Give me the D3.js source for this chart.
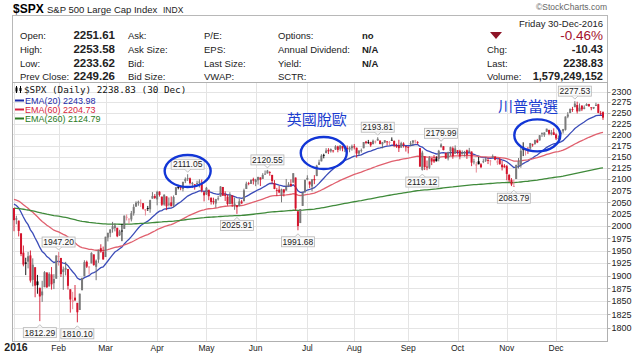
<!DOCTYPE html>
<html><head><meta charset="utf-8">
<script src="https://cdn.jsdelivr.net/npm/d3@7"></script>
<style>
body{margin:0;background:#fff;}
svg{display:block;font-family:"Liberation Sans",Arial,sans-serif;}
</style>
</head><body>
<svg id="c" width="640" height="356"></svg>
<script>
// ---------- DATA ----------
const tradingDays = [
"01-04","01-05","01-06","01-07","01-08","01-11","01-12","01-13","01-14","01-15","01-19","01-20","01-21","01-22","01-25","01-26","01-27","01-28","01-29",
"02-01","02-02","02-03","02-04","02-05","02-08","02-09","02-10","02-11","02-12","02-16","02-17","02-18","02-19","02-22","02-23","02-24","02-25","02-26","02-29",
"03-01","03-02","03-03","03-04","03-07","03-08","03-09","03-10","03-11","03-14","03-15","03-16","03-17","03-18","03-21","03-22","03-23","03-24","03-28","03-29","03-30","03-31",
"04-01","04-04","04-05","04-06","04-07","04-08","04-11","04-12","04-13","04-14","04-15","04-18","04-19","04-20","04-21","04-22","04-25","04-26","04-27","04-28","04-29",
"05-02","05-03","05-04","05-05","05-06","05-09","05-10","05-11","05-12","05-13","05-16","05-17","05-18","05-19","05-20","05-23","05-24","05-25","05-26","05-27","05-31",
"06-01","06-02","06-03","06-06","06-07","06-08","06-09","06-10","06-13","06-14","06-15","06-16","06-17","06-20","06-21","06-22","06-23","06-24","06-27","06-28","06-29","06-30",
"07-01","07-05","07-06","07-07","07-08","07-11","07-12","07-13","07-14","07-15","07-18","07-19","07-20","07-21","07-22","07-25","07-26","07-27","07-28","07-29",
"08-01","08-02","08-03","08-04","08-05","08-08","08-09","08-10","08-11","08-12","08-15","08-16","08-17","08-18","08-19","08-22","08-23","08-24","08-25","08-26","08-29","08-30","08-31",
"09-01","09-02","09-06","09-07","09-08","09-09","09-12","09-13","09-14","09-15","09-16","09-19","09-20","09-21","09-22","09-23","09-26","09-27","09-28","09-29","09-30",
"10-03","10-04","10-05","10-06","10-07","10-10","10-11","10-12","10-13","10-14","10-17","10-18","10-19","10-20","10-21","10-24","10-25","10-26","10-27","10-28","10-31",
"11-01","11-02","11-03","11-04","11-07","11-08","11-09","11-10","11-11","11-14","11-15","11-16","11-17","11-18","11-21","11-22","11-23","11-25","11-28","11-29","11-30",
"12-01","12-02","12-05","12-06","12-07","12-08","12-09","12-12","12-13","12-14","12-15","12-16","12-19","12-20","12-21","12-22","12-23","12-27","12-28","12-29","12-30"];

const open = [2038.20,2013.78,2011.71,1985.32,1945.97,1926.12,1927.83,1940.34,1891.68,1916.68,1888.66,1876.18,1861.46,1877.40,1906.28,1878.79,1902.52,1885.22,1894.00,
1936.94,1935.26,1907.07,1911.67,1913.07,1873.25,1848.46,1857.10,1847.00,1833.40,1871.44,1898.80,1927.57,1916.74,1924.44,1942.38,1917.56,1931.87,1954.95,1947.13,
1937.09,1976.60,1985.60,1994.01,1996.11,1996.88,1981.44,1990.97,1994.71,2019.27,2015.27,2014.24,2026.90,2041.16,2048.55,2048.64,2048.55,2032.48,2037.89,2035.75,2058.27,2063.77,
2056.62,2073.19,2062.50,2045.56,2063.01,2045.54,2050.23,2043.72,2065.92,2082.89,2083.10,2078.83,2096.05,2101.52,2102.09,2091.49,2089.37,2089.84,2092.57,2090.93,2071.82,
2067.17,2077.18,2060.30,2052.95,2047.77,2057.55,2062.63,2083.29,2067.17,2062.50,2046.53,2065.04,2044.38,2044.21,2041.88,2052.23,2052.65,2078.93,2091.44,2090.06,2100.13,
2093.94,2097.71,2104.07,2100.83,2110.18,2112.71,2115.65,2109.57,2091.75,2076.65,2077.60,2066.36,2078.20,2075.58,2085.19,2089.75,2092.80,2103.81,2031.45,2006.67,2042.69,2073.17,
2099.34,2095.05,2084.43,2100.42,2106.97,2131.72,2139.50,2153.81,2157.88,2165.13,2162.04,2163.79,2166.10,2172.91,2166.47,2173.71,2168.97,2169.81,2166.05,2168.83,
2173.15,2169.94,2156.81,2163.51,2168.79,2183.76,2182.24,2182.81,2177.97,2183.74,2186.08,2186.24,2177.84,2181.90,2184.24,2181.58,2187.81,2185.09,2173.29,2175.10,2170.19,2179.45,2173.56,
2171.33,2177.49,2181.61,2185.17,2182.76,2169.08,2120.86,2150.47,2127.86,2125.36,2146.48,2143.99,2145.94,2144.58,2170.94,2173.29,2158.54,2146.04,2161.85,2168.90,2156.51,
2164.33,2163.37,2155.15,2158.22,2164.19,2160.39,2161.35,2137.67,2130.26,2139.68,2132.95,2138.31,2140.81,2142.51,2139.43,2148.50,2149.72,2136.97,2144.06,2132.23,2129.78,
2128.68,2109.43,2098.80,2083.79,2100.59,2129.92,2131.56,2167.49,2162.71,2165.64,2168.29,2177.53,2178.61,2186.85,2186.43,2201.56,2198.55,2206.27,2210.21,2200.76,2204.97,
2200.17,2191.12,2200.65,2207.26,2210.72,2241.13,2249.73,2258.83,2263.32,2268.35,2253.77,2266.81,2259.24,2266.50,2270.54,2262.93,2260.25,2266.23,2270.23,2249.50,2251.61];

const high = [2038.20,2021.94,2011.71,1985.32,1960.40,1935.65,1947.38,1950.33,1934.47,1916.68,1901.44,1876.18,1889.85,1908.85,1906.28,1906.73,1916.99,1902.96,1940.24,
1947.20,1935.26,1918.01,1927.35,1913.07,1873.25,1868.25,1881.60,1847.00,1864.78,1895.77,1930.68,1930.00,1918.78,1946.70,1942.38,1932.08,1951.83,1962.96,1958.27,
1978.35,1986.51,1993.69,2009.13,2006.12,1996.88,1992.69,2005.08,2022.37,2024.57,2015.94,2032.02,2046.24,2052.36,2053.91,2056.60,2048.55,2036.04,2042.67,2055.91,2072.21,2067.92,
2075.07,2074.02,2062.50,2067.33,2063.01,2060.63,2062.93,2065.05,2083.18,2087.84,2083.22,2094.66,2104.05,2111.05,2103.78,2094.32,2089.37,2096.87,2099.89,2099.30,2073.85,
2083.42,2077.18,2060.30,2060.23,2057.72,2064.15,2084.87,2083.29,2073.99,2066.79,2071.88,2065.69,2060.61,2044.21,2058.35,2055.58,2079.67,2094.73,2094.30,2099.06,2103.48,
2100.97,2105.26,2104.07,2113.36,2119.22,2120.55,2117.64,2109.57,2098.12,2081.30,2085.65,2079.62,2078.20,2100.66,2093.66,2099.71,2113.32,2103.81,2031.45,2036.09,2073.13,2098.94,
2108.71,2095.05,2100.72,2109.08,2131.71,2143.16,2155.40,2156.45,2168.99,2169.05,2168.35,2164.63,2175.63,2174.56,2175.11,2173.71,2173.54,2174.98,2172.85,2177.09,
2178.29,2170.20,2163.79,2168.19,2182.87,2185.44,2187.66,2183.41,2188.45,2186.28,2193.81,2186.24,2183.08,2187.03,2185.00,2185.15,2193.42,2186.66,2179.00,2187.94,2183.48,2182.27,2173.79,
2173.56,2184.87,2186.57,2187.87,2184.94,2169.08,2163.30,2150.47,2141.33,2151.31,2146.48,2153.61,2150.80,2165.11,2179.99,2173.75,2158.54,2161.13,2172.40,2172.67,2175.30,
2164.41,2165.46,2163.95,2162.93,2165.86,2169.60,2161.56,2145.36,2138.19,2149.19,2135.61,2144.38,2148.44,2147.18,2142.63,2154.79,2151.44,2145.73,2147.13,2140.72,2133.25,
2131.45,2111.76,2102.56,2099.07,2132.00,2146.87,2170.10,2182.30,2165.92,2171.36,2180.84,2179.22,2188.06,2189.89,2198.70,2204.80,2204.72,2213.35,2211.14,2210.46,2214.10,
2202.60,2197.95,2209.42,2212.78,2241.63,2251.69,2259.80,2264.03,2277.53,2276.20,2272.12,2268.05,2267.47,2272.56,2271.23,2263.18,2263.79,2273.82,2271.31,2254.51,2253.58];

const low = [1989.68,2004.17,1979.05,1938.83,1918.46,1901.10,1914.35,1886.41,1878.93,1857.83,1864.60,1812.29,1848.98,1877.40,1875.97,1878.79,1872.70,1873.65,1894.00,
1920.03,1897.29,1872.23,1900.52,1872.65,1828.46,1834.94,1850.32,1810.10,1833.40,1871.44,1898.80,1915.09,1902.17,1924.44,1919.44,1891.00,1925.41,1945.78,1931.81,
1937.09,1968.80,1977.37,1986.77,1989.38,1977.43,1979.84,1969.25,1994.71,2012.05,2005.23,2010.04,2022.16,2041.16,2043.14,2040.57,2034.86,2022.49,2031.96,2028.31,2058.27,2057.46,
2043.98,2062.57,2042.56,2043.09,2033.80,2041.69,2041.88,2039.74,2065.92,2078.13,2076.31,2073.65,2091.68,2096.32,2088.52,2081.20,2077.52,2085.80,2082.31,2071.62,2052.28,
2066.11,2054.89,2045.55,2045.77,2039.45,2054.31,2062.63,2064.46,2053.13,2043.13,2046.53,2040.82,2034.49,2025.91,2041.88,2047.26,2052.65,2078.93,2087.08,2090.06,2088.66,
2085.10,2088.59,2085.36,2100.83,2110.18,2112.71,2107.73,2089.96,2078.46,2064.10,2069.80,2050.37,2062.84,2075.58,2083.02,2084.36,2092.80,2032.57,1991.68,2006.67,2042.69,2070.00,
2097.90,2080.86,2074.02,2089.39,2106.97,2131.72,2139.50,2146.21,2157.88,2155.79,2159.07,2159.01,2164.89,2159.75,2163.24,2161.95,2160.18,2159.07,2159.74,2163.49,
2166.21,2147.58,2152.53,2159.07,2168.79,2177.85,2178.61,2172.00,2177.97,2179.42,2186.08,2178.14,2168.50,2180.46,2175.13,2175.96,2186.80,2171.25,2169.74,2160.39,2170.19,2170.41,2161.35,
2157.09,2173.59,2175.10,2179.07,2177.49,2127.81,2119.12,2120.27,2119.90,2122.36,2131.20,2135.91,2139.17,2139.57,2170.94,2163.97,2145.04,2141.55,2151.79,2145.20,2156.51,
2154.77,2144.01,2155.15,2150.28,2144.85,2160.39,2128.84,2132.77,2114.72,2132.98,2124.43,2135.49,2138.15,2133.44,2130.09,2146.91,2141.93,2131.59,2132.52,2119.36,2125.53,
2097.85,2094.00,2085.23,2083.79,2100.59,2123.56,2125.35,2151.17,2152.49,2156.08,2166.38,2172.20,2176.65,2180.38,2186.43,2194.51,2194.51,2206.27,2198.36,2198.15,2198.81,
2187.44,2188.37,2199.97,2202.21,2208.93,2237.57,2249.23,2252.37,2263.32,2248.44,2253.77,2254.24,2258.21,2266.14,2265.15,2256.08,2258.84,2266.15,2249.11,2244.56,2233.62];

const close = [2012.66,2016.71,1990.26,1943.09,1922.03,1923.67,1938.68,1890.28,1921.84,1880.33,1881.33,1859.33,1868.99,1906.90,1877.08,1903.63,1882.95,1893.36,1940.24,
1939.38,1903.03,1912.53,1915.45,1880.05,1853.44,1852.21,1851.86,1829.08,1864.78,1895.58,1926.82,1917.83,1917.78,1945.50,1921.27,1929.80,1951.70,1948.05,1932.23,
1978.35,1986.45,1993.40,1999.99,2001.76,1979.26,1989.26,1989.57,2022.19,2019.64,2015.93,2027.22,2040.59,2049.58,2051.60,2049.80,2036.71,2035.94,2037.05,2055.01,2063.95,2059.74,
2072.78,2066.13,2045.17,2066.66,2041.91,2047.60,2041.99,2061.72,2082.42,2082.78,2080.73,2094.34,2100.80,2102.40,2091.48,2091.58,2087.79,2091.70,2095.15,2075.81,2065.30,
2081.43,2063.37,2051.12,2050.63,2057.14,2058.69,2084.39,2064.46,2064.11,2046.61,2066.66,2047.21,2047.63,2040.04,2052.32,2048.04,2076.06,2090.54,2090.10,2099.06,2096.95,
2099.33,2105.26,2099.13,2109.41,2112.13,2119.12,2115.48,2096.07,2079.06,2075.32,2071.50,2077.99,2071.22,2083.25,2088.90,2085.45,2113.32,2037.41,2000.54,2036.09,2070.77,2098.86,
2102.95,2088.55,2099.73,2097.90,2129.90,2137.16,2152.14,2152.43,2163.75,2161.74,2166.89,2163.78,2173.02,2165.17,2175.03,2168.48,2169.18,2166.58,2170.06,2173.60,
2170.84,2157.03,2163.79,2164.25,2182.87,2180.89,2181.74,2175.49,2185.79,2184.05,2190.15,2178.15,2182.22,2187.02,2183.87,2182.64,2186.90,2175.44,2172.47,2169.04,2180.38,2176.12,2170.95,
2170.86,2179.98,2186.48,2186.16,2181.30,2127.81,2159.04,2127.02,2125.77,2147.26,2139.16,2139.12,2139.76,2163.12,2177.18,2164.69,2146.10,2159.93,2171.37,2151.13,2168.27,
2161.20,2150.49,2159.73,2160.77,2153.74,2163.66,2136.73,2139.18,2132.55,2132.98,2126.50,2139.60,2144.29,2141.34,2141.16,2151.33,2143.16,2139.43,2133.04,2126.41,2126.15,
2111.72,2097.94,2088.66,2085.18,2131.52,2139.56,2163.26,2167.48,2164.45,2164.20,2180.39,2176.94,2187.12,2181.90,2198.18,2202.94,2204.72,2213.35,2201.72,2204.66,2198.81,
2191.08,2191.95,2204.71,2212.23,2241.35,2246.19,2259.53,2256.96,2271.72,2253.28,2262.03,2258.07,2262.53,2270.76,2265.18,2260.96,2263.79,2268.88,2249.92,2249.26,2238.83];

const emaPeriods = [20, 60, 260];
const emaSeeds   = [2050, 2058, 2038];
const emaLegend  = ["EMA(20) 2243.98", "EMA(60) 2204.73", "EMA(260) 2124.79"];
const emaColors  = ["#3b4cb8", "#e0606e", "#3f8a3a"];
const emaTextColors = ["#1c2aa8", "#d81e3c", "#2a7a22"];

const monthTickDays   = ["01-04","02-01","03-01","04-01","05-02","06-01","07-01","08-01","09-01","10-03","11-01","12-01"];
const monthTickLabels = ["2016","Feb","Mar","Apr","May","Jun","Jul","Aug","Sep","Oct","Nov","Dec"];
const priceTicks = [1800,1825,1850,1875,1900,1925,1950,1975,2000,2025,2050,2075,2100,2125,2150,2175,2200,2225,2250,2275,2300];

// price call-outs: day, value, side
const calloutDays   = ["01-20","02-01","02-11","04-20","05-19","06-08","06-27","08-15","09-12","09-22","11-04","12-13"];
const calloutValues = [1812.29,1947.20,1810.10,2111.05,2025.91,2120.55,1991.68,2193.81,2119.12,2179.99,2083.79,2277.53];
const calloutSides  = ["low","high","low","high","low","high","low","high","low","high","low","high"];

// hand-drawn annotations
const ringDays   = ["04-20","07-13","11-18"];
const ringValues = [2118, 2158, 2198];
const noteDays   = ["07-08","11-14"];
const noteValues = [2236, 2266];
const noteTexts  = ["英國脫歐","川普當選"];

// header info
const infoLabels1 = ["Open:","High:","Low:","Prev Close:"];
const infoValues1 = ["2251.61","2253.58","2233.62","2249.26"];
const infoLabels2 = ["Ask:","Ask Size:","Bid:","Bid Size:"];
const infoLabels3 = ["P/E:","EPS:","Last Size:","VWAP:"];
const infoLabels4 = ["Options:","Annual Dividend:","Yield:","SCTR:"];
const infoValues4 = ["no","N/A","N/A",""];
const quoteLabels = ["Chg:","Last:","Volume:"];
const quoteValues = ["-10.43","2238.83","1,579,249,152"];

// ---------- DRAW ----------
const svg = d3.select("#c");
const L = 12.5, R = 607.5, T = 82.5, B = 341.5;

const x = d3.scalePoint().domain(tradingDays).range([14, 603]);
const y = d3.scaleLog().domain([1800, 2300]).range([327.7, 91.7]);

// header
svg.append("text").attr("x",13).attr("y",13).attr("font-size",12).attr("font-weight","bold").text("$SPX");
svg.append("text").attr("x",47).attr("y",12.5).attr("font-size",9.5).attr("fill","#222").text("S&P 500 Large Cap Index");
svg.append("text").attr("x",163).attr("y",12.5).attr("font-size",8.5).attr("fill","#222").text("INDX");
svg.append("text").attr("x",607).attr("y",10).attr("font-size",8.5).attr("fill","#666").attr("text-anchor","end").text("©StockCharts.com");

svg.append("rect").attr("x",L).attr("y",15.5).attr("width",R-L).attr("height",T-15.5)
  .attr("fill","#fff").attr("stroke","#b8b8b8");

const rowY = [38.5, 52.5, 66.5, 80];
const hdr = svg.append("g").attr("font-size",9.5).attr("fill","#222");
rowY.forEach((ry,i)=>{
  hdr.append("text").attr("x",20).attr("y",ry).text(infoLabels1[i]);
  hdr.append("text").attr("x",115).attr("y",ry).attr("text-anchor","end").attr("font-weight","bold").attr("font-size",11.5).text(infoValues1[i]);
  hdr.append("text").attr("x",128).attr("y",ry).text(infoLabels2[i]);
  hdr.append("text").attr("x",204).attr("y",ry).text(infoLabels3[i]);
  hdr.append("text").attr("x",278).attr("y",ry).text(infoLabels4[i]);
  hdr.append("text").attr("x",362).attr("y",ry).attr("font-weight","bold").text(infoValues4[i]);
});
hdr.append("text").attr("x",603).attr("y",27).attr("text-anchor","end").text("Friday  30-Dec-2016");
svg.append("path").attr("d","M490,32 L502,32 L496,39 Z").attr("fill","#8e1427");
svg.append("text").attr("x",603).attr("y",40).attr("text-anchor","end").attr("font-size",13.5).attr("fill","#a3102c").text("-0.46%");
quoteLabels.forEach((t,i)=>{
  hdr.append("text").attr("x",487).attr("y",rowY[i+1]).text(t);
  hdr.append("text").attr("x",603).attr("y",rowY[i+1]).attr("text-anchor","end").attr("font-weight","bold").attr("font-size",11).text(quoteValues[i]);
});

// plot frame & grid
svg.append("rect").attr("x",L).attr("y",T).attr("width",R-L).attr("height",B-T).attr("fill","#fff");
const grid = svg.append("g").attr("stroke","#e4e4e4").attr("stroke-width",1);
priceTicks.forEach(v=>{
  const yy = Math.round(y(v))+0.5;
  grid.append("line").attr("x1",L).attr("x2",R).attr("y1",yy).attr("y2",yy);
});
monthTickDays.forEach(d=>{
  const xx = Math.round(x(d))+0.5;
  grid.append("line").attr("x1",xx).attr("x2",xx).attr("y1",T).attr("y2",B);
});

svg.append("clipPath").attr("id","clip").append("rect").attr("x",L).attr("y",T).attr("width",R-L).attr("height",B-T);
const plot = svg.append("g").attr("clip-path","url(#clip)");

// EMA lines
emaPeriods.forEach((n,k)=>{
  const a = 2/(n+1);
  let e = emaSeeds[k];
  const vals = close.map(c => (e = e + a*(c - e)));
  plot.append("path").datum(vals)
    .attr("fill","none").attr("stroke",emaColors[k]).attr("stroke-width",1.3)
    .attr("d", d3.line().x((v,i)=>x(tradingDays[i])).y(v=>y(v)));
});

// candles
const candles = plot.append("g");
tradingDays.forEach((d,i)=>{
  const up = i===0 ? close[i] >= open[i] : close[i] >= close[i-1];
  const col = up ? "#000" : "#d4142c";
  const hollow = close[i] > open[i];
  const cx = x(d);
  candles.append("line").attr("x1",cx).attr("x2",cx).attr("y1",y(high[i])).attr("y2",y(low[i]))
    .attr("stroke", hollow ? (up ? "#666" : "#e57a88") : col).attr("stroke-width",0.9);
  const y1 = y(Math.max(open[i],close[i])), y2 = y(Math.min(open[i],close[i]));
  candles.append("rect").attr("x",cx-1).attr("y",y1).attr("width",2).attr("height",Math.max(0.8,y2-y1))
    .attr("fill", hollow ? (up ? "#7a7a7a" : "#ea8794") : col);
});

// frame border
svg.append("rect").attr("x",L).attr("y",T).attr("width",R-L).attr("height",B-T)
  .attr("fill","none").attr("stroke","#b0b0b0");

// y axis labels
const yax = svg.append("g").attr("font-size",9).attr("fill","#222");
priceTicks.forEach(v=>{
  const yy = y(v);
  yax.append("line").attr("x1",R).attr("x2",R+3).attr("y1",Math.round(yy)+0.5).attr("y2",Math.round(yy)+0.5).attr("stroke","#b0b0b0");
  yax.append("text").attr("x",611.5).attr("y",yy).attr("dy","0.35em").text(v);
});

// x axis labels
monthTickDays.forEach((d,i)=>{
  svg.append("text").attr("x",x(d)+(i===0?2:0)).attr("y",350.5).attr("text-anchor","middle")
    .attr("font-size", i===0 ? 10.5 : 8.5).attr("font-weight", i===0 ? "bold" : "normal")
    .attr("fill","#222").text(monthTickLabels[i]);
});

// legend
const lg = svg.append("g");
lg.append("line").attr("x1",16.5).attr("x2",16.5).attr("y1",86).attr("y2",93).attr("stroke","#000");
lg.append("rect").attr("x",15.5).attr("y",87.5).attr("width",2).attr("height",4).attr("fill","#000");
lg.append("line").attr("x1",20.5).attr("x2",20.5).attr("y1",86).attr("y2",93).attr("stroke","#000");
lg.append("rect").attr("x",19.5).attr("y",88).attr("width",2).attr("height",3).attr("fill","#000");
lg.append("text").attr("x",24).attr("y",93).attr("font-family","'DejaVu Sans Mono',monospace").attr("font-size",9.3)
  .attr("fill","#111").text("$SPX (Daily) 2238.83 (30 Dec)");
emaLegend.forEach((t,k)=>{
  const ly = 100.5 + k*9;
  lg.append("line").attr("x1",15).attr("x2",24).attr("y1",ly).attr("y2",ly).attr("stroke",emaTextColors[k]).attr("stroke-width",2);
  lg.append("text").attr("x",25).attr("y",ly+3.2).attr("font-size",9).attr("fill",emaTextColors[k]).text(t);
});

// call-outs
const co = svg.append("g").attr("font-size",8.5);
calloutDays.forEach((d,i)=>{
  const cx = x(d), v = calloutValues[i], py = y(v);
  const w = 33, h = 10;
  const isHigh = calloutSides[i] === "high";
  const by = isHigh ? py - 5 - h : py + 6.5;
  const tip = isHigh ? `M${cx-3},${by+h} L${cx},${by+h+3} L${cx+3},${by+h}` : `M${cx-3},${by} L${cx},${by-3} L${cx+3},${by}`;
  co.append("rect").attr("x",cx-w/2).attr("y",by).attr("width",w).attr("height",h)
    .attr("fill","#fafafa").attr("stroke","#b5b5b5").attr("stroke-width",0.8);
  co.append("path").attr("d",tip).attr("fill","#fafafa").attr("stroke","#b5b5b5").attr("stroke-width",0.8);
  co.append("text").attr("x",cx).attr("y",by+h/2).attr("dy","0.35em").attr("text-anchor","middle").attr("fill","#222")
    .text(v.toFixed(2));
});

// rings & notes
ringDays.forEach((d,i)=>{
  svg.append("ellipse").attr("cx",x(d)).attr("cy",y(ringValues[i])).attr("rx",23).attr("ry",16)
    .attr("fill","none").attr("stroke","#1236d6").attr("stroke-width",2.4);
});
noteDays.forEach((d,i)=>{
  svg.append("text").attr("x",x(d)).attr("y",y(noteValues[i])).attr("dy","0.38em").attr("text-anchor","middle")
    .attr("font-family","'Noto Sans CJK TC','Noto Sans CJK SC',sans-serif").attr("font-size",15)
    .attr("fill","#1a3ccf").text(noteTexts[i]);
});
</script>
</body></html>
